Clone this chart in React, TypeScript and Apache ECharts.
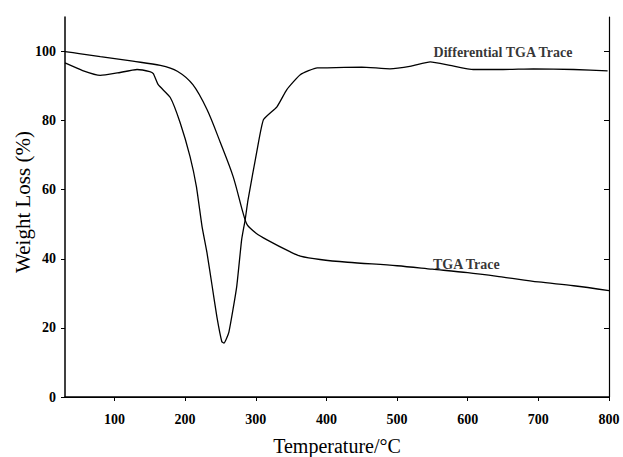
import React, { useEffect, useRef } from "react";
import * as echarts from "echarts";

const tgaTemp = [30, 50, 80, 126, 165, 189, 211, 231, 250, 268, 282, 288, 300, 316, 349, 363, 391, 430, 500, 550, 600, 650, 700, 750, 800];
const tgaWeight = [100, 99.4, 98.5, 97.2, 96, 94.3, 90.4, 83.2, 73.6, 63.8, 53.3, 49.8, 47.5, 45.5, 42, 40.8, 39.8, 39, 38, 37, 36, 34.7, 33.3, 32.2, 30.8];

const dtgTemp = [30, 55, 80, 104, 132, 150, 155, 162, 179, 193, 207, 216, 224, 231, 238, 245, 252, 255, 262, 273, 280, 285, 289, 302, 311, 330, 344, 363, 387, 401, 450, 490, 520, 547, 575, 608, 650, 693, 750, 798];
const dtgWeight = [96.7, 94.5, 93.1, 93.8, 94.8, 94.2, 93.6, 90.4, 86.7, 79.4, 69.6, 60.9, 49.3, 41.7, 32.5, 23.2, 16, 15.6, 18.8, 31.9, 45.5, 51.3, 57, 71.6, 80.3, 84, 89, 93.3, 95.3, 95.3, 95.5, 95, 95.8, 97, 96, 94.8, 94.8, 95, 94.8, 94.4];

const xTicks = [100, 200, 300, 400, 500, 600, 700, 800];
const yTicks = [0, 20, 40, 60, 80, 100];

const labelTexts = ["Differential TGA Trace", "TGA Trace"];
const labelPositions = [[650, 99.7], [598, 38.5]];

const FONT = "'Liberation Serif', 'Times New Roman', serif";

export default function App() {
  const ref = useRef<HTMLDivElement>(null);
  useEffect(() => {
    if (!ref.current) return;
    const chart = echarts.init(ref.current, undefined, { renderer: "svg" });
    const lineStyle = { color: "#000", width: 1.3 };
    chart.setOption({
      animation: false,
      backgroundColor: "#fff",
      grid: { left: 65, right: 14, top: 17, bottom: 60, containLabel: false, outerBoundsMode: "none" },
      xAxis: [
        {
          type: "value",
          min: 30,
          max: 800,
          position: "bottom",
          name: "Temperature/°C",
          nameLocation: "middle",
          nameGap: 39,
          nameMoveOverlap: false,
          nameTextStyle: { fontFamily: FONT, fontSize: 20, color: "#000" },
          axisLine: { show: true, lineStyle: { color: "#000", width: 1.5 } },
          axisTick: { show: true, inside: false, length: 4, customValues: xTicks, lineStyle: { color: "#000" } },
          axisLabel: {
            customValues: xTicks,
            fontFamily: FONT,
            fontWeight: "bold",
            fontSize: 14,
            color: "#000",
            margin: 15,
          },
          splitLine: { show: false },
        },
        {
          type: "value",
          min: 30,
          max: 800,
          position: "top",
          axisLine: { show: true, lineStyle: { color: "#000", width: 1.2 } },
          axisTick: { show: false },
          axisLabel: { show: false },
          splitLine: { show: false },
        },
      ],
      yAxis: [
        {
          type: "value",
          min: 0,
          max: 110,
          position: "left",
          name: "Weight Loss (%)",
          nameLocation: "middle",
          nameGap: 32,
          nameMoveOverlap: false,
          nameTextStyle: { fontFamily: FONT, fontSize: 21, color: "#000", padding: [0, 0, 0, 10] },
          axisLine: { show: true, lineStyle: { color: "#000", width: 1.5 } },
          axisTick: { show: true, inside: false, length: 4, customValues: yTicks, lineStyle: { color: "#000" } },
          axisLabel: {
            customValues: yTicks,
            fontFamily: FONT,
            fontWeight: "bold",
            fontSize: 14,
            color: "#000",
            margin: 9,
          },
          splitLine: { show: false },
        },
        {
          type: "value",
          min: 0,
          max: 110,
          position: "right",
          axisLine: { show: true, lineStyle: { color: "#000", width: 1.2 } },
          axisTick: { show: true, inside: true, length: 5, customValues: yTicks, lineStyle: { color: "#000" } },
          axisLabel: { show: false },
          splitLine: { show: false },
        },
      ],
      series: [
        {
          type: "line",
          name: "TGA Trace",
          data: tgaTemp.map((t, i) => [t, tgaWeight[i]]),
          showSymbol: false,
          smooth: 0.3,
          lineStyle,
          itemStyle: { color: "#000" },
        },
        {
          type: "line",
          name: "Differential TGA Trace",
          data: dtgTemp.map((t, i) => [t, dtgWeight[i]]),
          showSymbol: false,
          smooth: 0.15,
          lineStyle,
          itemStyle: { color: "#000" },
        },
        {
          type: "scatter",
          data: labelPositions.map((p, i) => ({ value: p, name: labelTexts[i] })),
          symbolSize: 1,
          itemStyle: { color: "rgba(0,0,0,0)" },
          label: {
            show: true,
            position: "inside",
            formatter: (p: any) => p.name,
            fontFamily: FONT,
            fontWeight: "bold",
            fontSize: 14,
            color: "#000",
            textBorderWidth: 0,
            textBorderColor: "transparent",
          },
          silent: true,
          z: 5,
        },
      ],
    });
    return () => chart.dispose();
  }, []);
  return <div ref={ref} style={{ width: 623, height: 457, position: "absolute", left: 0, top: 0 }} />;
}
